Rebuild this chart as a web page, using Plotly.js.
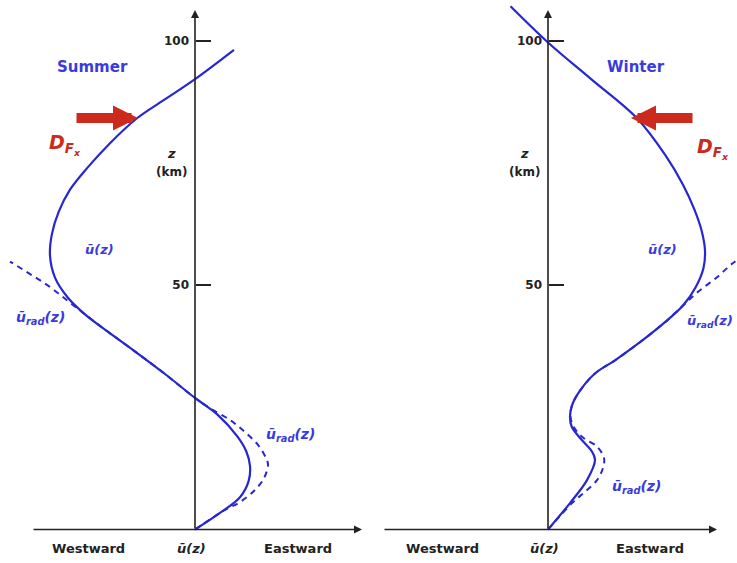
<!DOCTYPE html>
<html><head><meta charset="utf-8">
<script src="https://cdn.plot.ly/plotly-3.0.1.min.js"></script>
<style>html,body{margin:0;padding:0;background:#fff}#c{width:737px;height:563px}</style>
</head><body><div id="c"></div>
<script>
// Summer panel (left): mean zonal wind u(z) and radiative-equilibrium wind u_rad(z)
const summerU    = [0, 10, 18, 21.5, 22, 20.5, 17, 9, 0, -12, -24, -35, -44, -51, -56, -58, -57.2, -54.5, -50, -43, -34, -23.2, -11, 0, 15.6];
const summerZ    = [0, 3.4, 6.6, 10, 13, 16, 19, 23.5, 26.9, 31.8, 36.4, 40.5, 44, 47.5, 51.5, 56, 60.5, 65, 69.5, 74, 79, 84.1, 88.3, 92.1, 98.1];
const summerRadU = [0, 12, 18, 24, 27.6, 29.2, 28.4, 25.2, 20, 14, 6, 0, -12, -24, -35, -42, -47, -53, -58, -64, -74];
const summerRadZ = [0, 4, 5.6, 8.1, 10.5, 13.2, 14.6, 17.3, 19.9, 22.4, 24.8, 26.9, 31.8, 36.4, 40.5, 43.2, 45.2, 47.6, 49.6, 51.6, 54.8];
// Winter panel (right)
const winterU    = [0, 8.8, 15.6, 18.8, 17.5, 13, 9.5, 8.8, 9.6, 12.8, 18.8, 26.8, 36.8, 46.8, 54, 59, 62.2, 62.8, 61.5, 58.5, 54, 47, 35.6, 17.5, 0, -15];
const winterZ    = [0, 5.4, 10.1, 14.2, 16, 18.6, 21, 23, 25.4, 28.4, 31.9, 34.6, 38.3, 42.4, 45.8, 49.5, 53.5, 57, 61, 65.5, 70.5, 76.5, 84.1, 92, 99.6, 107];
const winterRadU = [0, 9.6, 14.8, 19.6, 22, 22.4, 19.5, 14, 10.5, 9, 9.6, 12.8, 18.8, 26.8, 36.8, 46.8, 54, 60, 67.6, 74, 80];
const winterRadZ = [0, 5.4, 7.7, 10.1, 12.6, 14.6, 17, 18.8, 20.8, 23, 25.4, 28.4, 31.9, 34.6, 38.3, 42.4, 45.8, 48.6, 51.6, 54.5, 56.5];
// Height axis ticks
const zTickVals   = [50, 100];
const zTickLabels = ['50', '100'];
// Panel / axis texts
const panelTitles = ['Summer', 'Winter'];
const xLabels     = ['Westward', 'ū(z)', 'Eastward'];

const W = 737, H = 563;
const blue = '#2626d2', tblue = '#3a3ade', red = '#cc2a1c', ink = '#222';
const FONT = 'DejaVu Sans, Liberation Sans, Arial, sans-serif';

const traces = [
  {x: summerRadU, y: summerRadZ, xaxis: 'x', yaxis: 'y', mode: 'lines', line: {color: blue, width: 2, dash: '6px,5px', shape: 'spline', smoothing: 1}, hoverinfo: 'skip'},
  {x: summerU, y: summerZ, xaxis: 'x', yaxis: 'y', mode: 'lines', line: {color: blue, width: 2.2, shape: 'spline', smoothing: 1}, hoverinfo: 'skip'},
  {x: winterRadU, y: winterRadZ, xaxis: 'x2', yaxis: 'y2', mode: 'lines', line: {color: blue, width: 2, dash: '6px,5px', shape: 'spline', smoothing: 1}, hoverinfo: 'skip'},
  {x: winterU, y: winterZ, xaxis: 'x2', yaxis: 'y2', mode: 'lines', line: {color: blue, width: 2.2, shape: 'spline', smoothing: 1}, hoverinfo: 'skip'}
];

const px = v => v / W, py = v => 1 - v / H;
const yRange = [-(H - 529.5) / 4.89, 529.5 / 4.89];
const yTop = (529.5 - 10) / 4.89;

const yax = (pos) => ({
  range: yRange, domain: [0, 1], anchor: 'free', position: pos,
  showgrid: false, zeroline: false, showline: false,
  tickvals: zTickVals, ticktext: zTickLabels, ticks: 'inside', ticklen: 15, tickwidth: 2, tickcolor: ink,
  ticklabelstandoff: 6,
  tickfont: {family: FONT, size: 12, color: ink, weight: 'bold'}, fixedrange: true
});

const layout = {
  width: W, height: H, margin: {l: 0, r: 0, t: 0, b: 0},
  paper_bgcolor: '#fff', plot_bgcolor: 'rgba(0,0,0,0)', showlegend: false,
  xaxis:  {domain: [0, 368 / W], range: [-195 / 2.5, (368 - 195) / 2.5], visible: false, fixedrange: true},
  xaxis2: {domain: [368 / W, 1], range: [-(548 - 368) / 2.5, (737 - 548) / 2.5], visible: false, fixedrange: true},
  yaxis: yax(195 / W),
  yaxis2: Object.assign(yax(548 / W), {overlaying: 'y'}),
  annotations: [],
  font: {family: FONT}
};

const A = layout.annotations;
function axArrow(xr, yr, x0, y0, x1, y1) {
  A.push({xref: xr, yref: yr, axref: xr, ayref: yr, x: x1, y: y1, ax: x0, ay: y0, text: '', showarrow: true,
    arrowhead: 2, arrowsize: 1, arrowwidth: 1.6, arrowcolor: ink, standoff: 0, startstandoff: 0});
}
axArrow('x', 'y', 0, 0, 0, yTop);
axArrow('x', 'y', (32 - 195) / 2.5, 0, (362 - 195) / 2.5, 0);
axArrow('x2', 'y2', 0, 0, 0, yTop);
axArrow('x2', 'y2', (383 - 548) / 2.5, 0, (717 - 548) / 2.5, 0);

// red D_Fx arrows
A.push({xref: 'paper', yref: 'paper', x: px(138), y: py(118), ax: -63, ay: 0, text: '', showarrow: true,
  arrowhead: 2, arrowsize: 0.5, arrowwidth: 10, arrowcolor: red, standoff: 0});
A.push({xref: 'paper', yref: 'paper', x: px(631), y: py(118), ax: 63, ay: 0, text: '', showarrow: true,
  arrowhead: 2, arrowsize: 0.5, arrowwidth: 10, arrowcolor: red, standoff: 0});

function txt(x, y, t, size, color, weight, xanchor) {
  A.push({xref: 'paper', yref: 'paper', x: px(x), y: py(y), text: t, showarrow: false,
    xanchor: xanchor || 'center', yanchor: 'middle', font: {family: FONT, size: size, color: color, weight: weight || 'bold'}});
}
const DF = '<i>D<sub>F<sub>x</sub></sub></i>';
txt(92, 67, panelTitles[0], 15, tblue);
txt(636, 67, panelTitles[1], 15, tblue);
txt(65, 145, DF, 19, red);
txt(713, 148, DF, 19, red);
txt(171, 153, '<i>z</i>', 13, ink);
txt(171, 172, '(km)', 12, ink);
txt(524, 153, '<i>z</i>', 13, ink);
txt(524, 172, '(km)', 12, ink);
txt(99, 249, '<i>ū(z)</i>', 13, tblue);
txt(662, 249, '<i>ū(z)</i>', 13, tblue);
txt(40, 318, '<i>ū<sub>rad</sub>(z)</i>', 14, tblue);
txt(290, 435, '<i>ū<sub>rad</sub>(z)</i>', 14, tblue);
txt(636, 487, '<i>ū<sub>rad</sub>(z)</i>', 14, tblue);
txt(735, 321, '<i>ū<sub>rad</sub>(z)</i>', 13, tblue, 'bold', 'right');
txt(88, 548, xLabels[0], 13, ink);
txt(191, 548, '<i>' + xLabels[1] + '</i>', 13, ink);
txt(298, 548, xLabels[2], 13, ink);
txt(442, 548, xLabels[0], 13, ink);
txt(544, 548, '<i>' + xLabels[1] + '</i>', 13, ink);
txt(650, 548, xLabels[2], 13, ink);

Plotly.newPlot('c', traces, layout, {staticPlot: true, displayModeBar: false});
</script></body></html>
